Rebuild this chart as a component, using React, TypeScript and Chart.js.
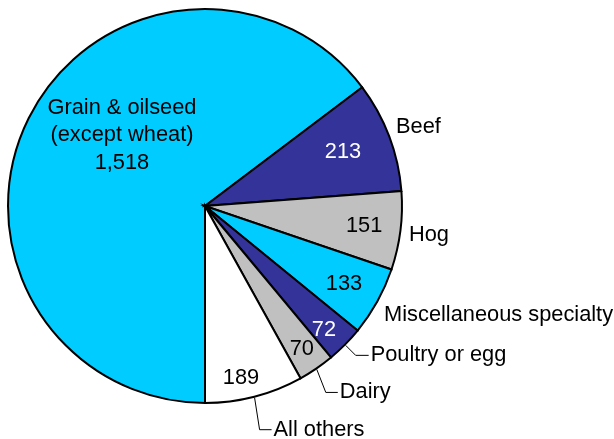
import React, { useEffect, useRef } from "react";
import { Chart, registerables } from "chart.js";

Chart.register(...registerables);

const categories = [
  "Grain & oilseed (except wheat)",
  "Beef",
  "Hog",
  "Miscellaneous specialty",
  "Poultry or egg",
  "Dairy",
  "All others",
];
const values = [1518, 213, 151, 133, 72, 70, 189];
const valueLabels = ["1,518", "213", "151", "133", "72", "70", "189"];
const sliceColors = ["#00CCFF", "#333399", "#C0C0C0", "#00CCFF", "#333399", "#C0C0C0", "#FFFFFF"];
const valueColors = ["#000000", "#FFFFFF", "#000000", "#000000", "#FFFFFF", "#000000", "#000000"];

const FONT = "21.8px 'Liberation Sans', Arial, sans-serif";
const DEG = Math.PI / 180;

// inside label: angle offset (deg) from slice mid, radius fraction
const inside = [
  { dA: 13.5, rF: 0.55 },
  { dA: -0.6, rF: 0.752 },
  { dA: 0, rF: 0.814 },
  { dA: 0.3, rF: 0.809 },
  { dA: 1.5, rF: 0.873 },
  { dA: 0.3, rF: 0.877 },
  { dA: 2.7, rF: 0.892 },
];
// outside labels without leader: angle offset + radius fraction (left aligned)
const outside: Record<number, { dA: number; rF: number }> = {
  1: { dA: -1.7, rF: 1.049 },
  2: { dA: 0.9, rF: 1.046 },
  3: { dA: 2.3, rF: 1.064 },
};
// leader labels: elbow offset from edge point, horizontal end x offset
const leaders: Record<number, { ex: number; ey: number; hx: number }> = {
  4: { ex: 10, ey: 10, hx: 13 },
  5: { ex: 9, ey: 23, hx: 12 },
  6: { ex: 5, ey: 32, hx: 12 },
};

const labelPlugin = {
  id: "sliceLabels",
  afterDraw(chart: any) {
    const ctx = chart.ctx as CanvasRenderingContext2D;
    const meta = chart.getDatasetMeta(0);
    ctx.save();
    ctx.font = FONT;
    ctx.textBaseline = "middle";
    meta.data.forEach((arc: any, i: number) => {
      const { x, y, outerRadius: R, startAngle, endAngle } = arc.getProps(
        ["x", "y", "outerRadius", "startAngle", "endAngle"],
        true
      );
      const mid = (startAngle + endAngle) / 2;
      const ins = inside[i];
      const a = mid + ins.dA * DEG;
      const px = x + Math.cos(a) * R * ins.rF;
      const py = y + Math.sin(a) * R * ins.rF;
      ctx.fillStyle = valueColors[i];
      ctx.textAlign = "center";
      if (i === 0) {
        const lines = ["Grain & oilseed", "(except wheat)", valueLabels[0]];
        lines.forEach((t, k) => ctx.fillText(t, px, py - 1 + (k - 1) * 27.5));
      } else {
        ctx.fillText(valueLabels[i], px, py);
      }
      ctx.fillStyle = "#000000";
      if (outside[i]) {
        const o = outside[i];
        const b = mid + o.dA * DEG;
        ctx.textAlign = "left";
        ctx.fillText(categories[i], x + Math.cos(b) * R * o.rF, y + Math.sin(b) * R * o.rF);
      }
      if (leaders[i]) {
        const l = leaders[i];
        const sx = x + Math.cos(mid) * (R + 1);
        const sy = y + Math.sin(mid) * (R + 1);
        const exx = sx + l.ex;
        const eyy = sy + l.ey;
        ctx.strokeStyle = "#000000";
        ctx.lineWidth = 1;
        ctx.beginPath();
        ctx.moveTo(sx, sy);
        ctx.lineTo(exx, eyy);
        ctx.lineTo(exx + l.hx, eyy);
        ctx.stroke();
        ctx.textAlign = "left";
        ctx.fillText(categories[i], exx + l.hx + 2, eyy);
      }
    });
    ctx.restore();
  },
};

export default function App() {
  const ref = useRef<HTMLCanvasElement>(null);
  useEffect(() => {
    if (!ref.current) return;
    const chart = new Chart(ref.current, {
      type: "pie",
      data: {
        labels: categories,
        datasets: [
          {
            data: values,
            backgroundColor: sliceColors,
            borderColor: "#000000",
            borderWidth: 2,
            borderJoinStyle: "miter",
          } as any,
        ],
      },
      options: {
        animation: false,
        responsive: false,
        rotation: 180,
        radius: 197,
        layout: { padding: { left: 0, top: 0, right: 204, bottom: 27 } },
        plugins: { legend: { display: false }, tooltip: { enabled: false } },
      } as any,
      plugins: [labelPlugin],
    });
    return () => chart.destroy();
  }, []);
  return (
    <div style={{ position: "fixed", left: 0, top: 0, width: 614, height: 439, background: "#fff" }}>
      <canvas ref={ref} width={614} height={439} style={{ width: 614, height: 439 }} />
    </div>
  );
}
